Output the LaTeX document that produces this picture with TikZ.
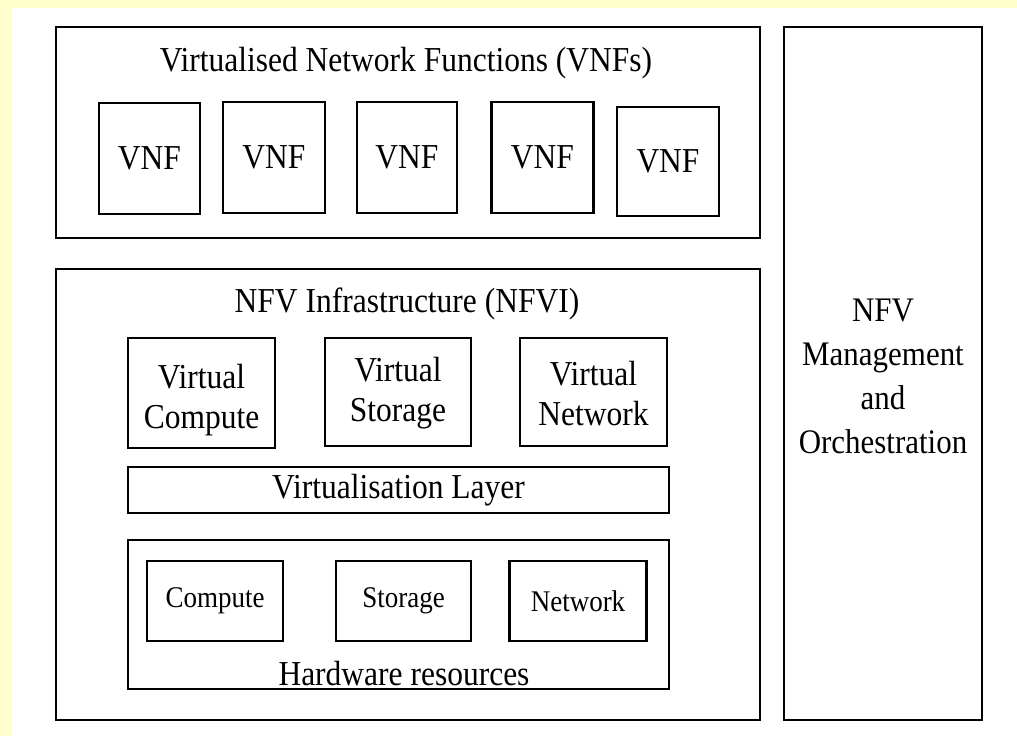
\documentclass[tikz,border=0pt]{standalone}
\usepackage{fontspec}
\setmainfont{Liberation Serif}[FakeStretch=0.9]
\definecolor{slideyellow}{RGB}{255,255,204}
\tikzset{
  box/.style={draw,line width=1.1pt,inner sep=0pt,align=center},
  bigtext/.style={font=\fontsize{17.5}{20}\selectfont},
  smalltext/.style={font=\fontsize{15}{16}\selectfont},
}
\begin{document}
\begin{tikzpicture}[x=0.5pt,y=-0.5pt]
      \useasboundingbox (0,0) rectangle (1017,736);
      \fill[slideyellow] (0,0) rectangle (1017,736);
      \fill[white] (12,8) rectangle (1017,736);
      % virtualised network functions
      \draw
        (408,132.5) node[box,minimum width=352pt,minimum height=105.5pt] (vnfs){}
        (406,71) node[bigtext,anchor=base] (vnfstitle){Virtualised Network Functions (VNFs)}
        (149.5,158.5) node[box,bigtext,minimum width=50.5pt,minimum height=55.5pt] (vnf1){VNF}
        (274,157.5) node[box,bigtext,minimum width=51pt,minimum height=55.5pt] (vnf2){VNF}
        (407,157.5) node[box,bigtext,minimum width=50pt,minimum height=55.5pt] (vnf3){VNF}
        (542.5,157.5) node[box,bigtext,minimum width=51pt,minimum height=55.5pt] (vnf4){VNF}
        (668,161.5) node[box,bigtext,minimum width=51pt,minimum height=54.5pt] (vnf5){VNF};
      % infrastructure
      \draw
        (408,494.5) node[box,minimum width=352pt,minimum height=225.5pt] (nfvi){}
        (407,312) node[bigtext,anchor=base] (nfvititle){NFV Infrastructure (NFVI)}
        (201.5,393) node[box,minimum width=73.5pt,minimum height=55pt] (vcompute){}
        (201.5,400) node[bigtext,align=center] (vcomputetext){Virtual\\Compute}
        (398,392) node[box,minimum width=73pt,minimum height=54pt] (vstorage){}
        (398,393) node[bigtext,align=center] (vstoragetext){Virtual\\Storage}
        (593.5,392) node[box,minimum width=73.5pt,minimum height=54pt] (vnetwork){}
        (593.5,394) node[bigtext,align=center] (vnetworktext){Virtual\\Network}
        (398.5,490) node[box,bigtext,minimum width=270.5pt,minimum height=23pt] (vlayer){Virtualisation Layer}
        (398.5,614.5) node[box,minimum width=270.5pt,minimum height=74.5pt] (hw){}
        (215,601) node[box,smalltext,minimum width=68pt,minimum height=40pt] (compute){Compute}
        (403.5,601) node[box,smalltext,minimum width=67.5pt,minimum height=40pt] (storage){Storage}
        (578,601) node[box,smalltext,minimum width=68.5pt,minimum height=40pt] (network){Network}
        (404,685) node[bigtext,anchor=base] (hwtitle){Hardware resources};
      % management and orchestration
      \draw
        (883,373.5) node[box,minimum width=99pt,minimum height=346.5pt] (mano){}
        (883,376) node[font=\fontsize{17.2}{22}\selectfont,align=center] (manotext){NFV\\Management\\and\\Orchestration};
    \end{tikzpicture}
\end{document}
